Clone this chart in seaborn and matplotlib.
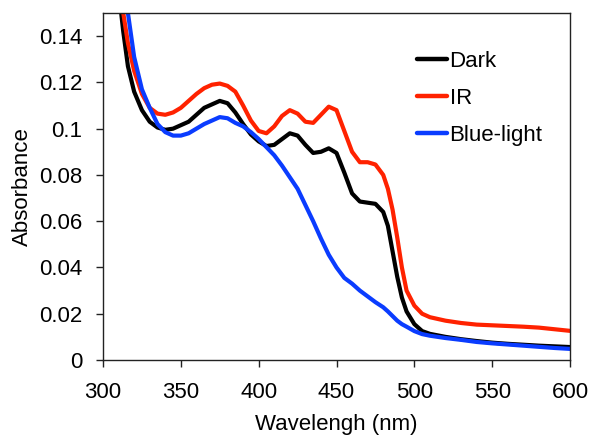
import numpy as np
import pandas as pd
import seaborn as sns
import matplotlib
matplotlib.use("Agg")
import matplotlib.pyplot as plt
from matplotlib.ticker import FuncFormatter

# Absorption spectra (wavelength in nm)
wavelength = [305, 310, 313, 316, 320, 325, 330, 335, 340, 345, 350, 355, 360,
              365, 370, 375, 380, 385, 390, 395, 400, 405, 410, 415, 420, 425,
              430, 435, 440, 445, 450, 455, 460, 465, 470, 475, 480, 483, 486,
              489, 492, 495, 500, 505, 510, 520, 530, 540, 550, 560, 570, 580,
              590, 600]

dark = [0.200, 0.160, 0.142, 0.127, 0.116, 0.108, 0.103, 0.1005, 0.0995, 0.100,
        0.1015, 0.103, 0.106, 0.109, 0.1105, 0.112, 0.111, 0.107, 0.102, 0.0975,
        0.0945, 0.0925, 0.093, 0.0955, 0.098, 0.097, 0.093, 0.0895, 0.090, 0.0915,
        0.0895, 0.081, 0.072, 0.0685, 0.068, 0.0675, 0.064, 0.058, 0.047, 0.036,
        0.027, 0.021, 0.0155, 0.0125, 0.0113, 0.0100, 0.0090, 0.0082, 0.0075,
        0.0070, 0.0066, 0.0062, 0.0059, 0.0056]

ir = [0.210, 0.165, 0.150, 0.137, 0.125, 0.115, 0.109, 0.1065, 0.106, 0.107,
      0.109, 0.112, 0.115, 0.1175, 0.119, 0.1195, 0.1185, 0.116, 0.110, 0.1035,
      0.099, 0.098, 0.101, 0.1055, 0.108, 0.1065, 0.103, 0.1025, 0.106, 0.1095,
      0.108, 0.099, 0.090, 0.0855, 0.0855, 0.0845, 0.080, 0.074, 0.065, 0.053,
      0.040, 0.030, 0.0235, 0.020, 0.0185, 0.017, 0.016, 0.0153, 0.015, 0.0147,
      0.0144, 0.014, 0.0133, 0.0126]

blue = [0.240, 0.185, 0.165, 0.150, 0.131, 0.117, 0.109, 0.102, 0.0985, 0.097,
        0.097, 0.098, 0.100, 0.102, 0.1035, 0.105, 0.1045, 0.1025, 0.101, 0.0985,
        0.0955, 0.092, 0.0885, 0.084, 0.079, 0.074, 0.067, 0.060, 0.0525, 0.0455,
        0.040, 0.0355, 0.033, 0.030, 0.0275, 0.025, 0.0228, 0.021, 0.019, 0.017,
        0.0155, 0.0144, 0.0125, 0.0112, 0.0105, 0.0095, 0.0087, 0.0078, 0.0072,
        0.0067, 0.0062, 0.0057, 0.0052, 0.0048]

conditions = ["Dark", "IR", "Blue-light"]
colors = ["#000000", "#FF2200", "#0A3CFF"]
x_ticks = [300, 350, 400, 450, 500, 550, 600]
y_ticks = [0, 0.02, 0.04, 0.06, 0.08, 0.1, 0.12, 0.14]

df = pd.concat([
    pd.DataFrame({"Wavelength": wavelength, "Absorbance": vals, "Condition": name})
    for name, vals in zip(conditions, [dark, ir, blue])
], ignore_index=True)

sns.set_theme(style="white")
plt.rcParams["font.family"] = ["Liberation Sans", "DejaVu Sans"]
plt.rcParams["text.color"] = "black"
plt.rcParams["axes.labelcolor"] = "black"
plt.rcParams["xtick.color"] = "black"
plt.rcParams["ytick.color"] = "black"

fig = plt.figure(figsize=(5.91, 4.36), dpi=100)
ax = fig.add_axes([0.1743, 0.1743, 0.7902, 0.7959])

sns.lineplot(data=df, x="Wavelength", y="Absorbance", hue="Condition",
             hue_order=conditions, palette=colors, linewidth=3.0,
             estimator=None, sort=False, ax=ax)

ax.set_xlim(300, 600)
ax.set_ylim(0, 0.15)
ax.set_xticks(x_ticks)
ax.set_yticks(y_ticks)
ax.yaxis.set_major_formatter(FuncFormatter(lambda v, p: f"{v:g}"))
ax.tick_params(axis="both", direction="out", length=5, width=1,
               color="#222222", labelsize=16, labelcolor="black",
               bottom=True, left=True)
ax.tick_params(axis="x", pad=11)
ax.tick_params(axis="y", pad=10)
for s in ax.spines.values():
    s.set_color("#222222")
    s.set_linewidth(1.0)

ax.set_xlabel("Wavelengh (nm)", fontsize=16, labelpad=8)
ax.set_ylabel("Absorbance", fontsize=16, labelpad=4)

leg = ax.legend(loc="upper left", bbox_to_anchor=(0.653, 0.917), frameon=False,
                fontsize=16, handlelength=1.35, handletextpad=0.12,
                labelspacing=0.72, borderaxespad=0)
for line in leg.get_lines():
    line.set_linewidth(3.2)

fig.savefig("out.png", dpi=100)
